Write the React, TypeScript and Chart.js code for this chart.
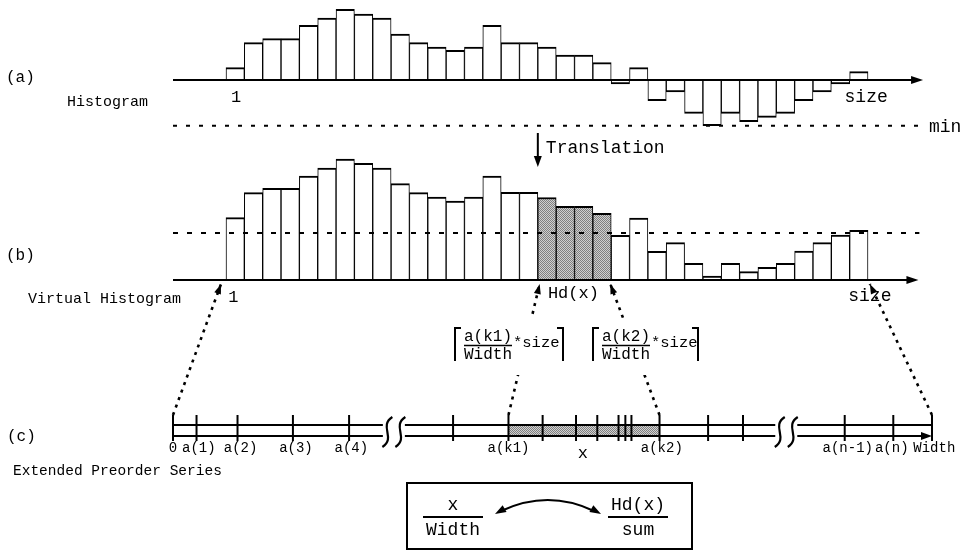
import React, { useEffect, useRef } from "react";
import { Chart, registerables } from "chart.js";

Chart.register(...registerables);

const FONT = '"Liberation Mono", "DejaVu Sans Mono", monospace';

// ---- data -------------------------------------------------------------
// bin numbers 1 .. size
const bins = [1, 2, 3, 4, 5, 6, 7, 8, 9, 10, 11, 12, 13, 14, 15, 16, 17, 18, 19, 20, 21, 22, 23, 24, 25, 26, 27, 28, 29, 30, 31, 32, 33, 34, 35];
// (a) original histogram (can be negative)
const histogram = [12.3, 37.3, 41.3, 41.3, 54.7, 62, 70.7, 66, 62, 46, 37.3, 33, 29.7, 33, 54.7, 37.3, 37.3, 33, 25, 25, 17.3, -4, 12.3, -20.7, -12, -33.3, -45.7, -33.3, -41.7, -37.3, -33.3, -20.7, -12, -4, 8.3];
const minValue = -45.7;
// (b) virtual (translated) histogram
const virtualHistogram = [62.3, 87.3, 91.7, 91.7, 104, 112, 121, 116.7, 112, 96.3, 87.3, 83, 79, 83, 104, 87.7, 87.7, 82.5, 73.7, 73.7, 66.7, 44.7, 62, 28.7, 37.3, 16.7, 4, 16.7, 8.3, 12.7, 16.7, 29, 37.3, 45, 49.7];
const virtualLevel = 47;
const shadedBins = [18, 19, 20, 21];

// (c) extended preorder series, positions along 0 .. Width (=100)
const seriesPositions = [0, 3.1, 8.5, 15.8, 23.2, 36.9, 44.2, 48.7, 53.1, 55.9, 58.7, 59.6, 60.4, 64.1, 70.5, 75.1, 88.5, 94.9, 100];
const seriesLabelPositions = [0, 3.4, 8.9, 16.2, 23.5, 44.2, 64.4, 88.9, 94.7, 100.3];
const seriesLabelTexts = ["0", "a(1)", "a(2)", "a(3)", "a(4)", "a(k1)", "a(k2)", "a(n-1)", "a(n)", "Width"];
const breakPositions = [29.1, 80.8];
const k1Position = 44.2;
const k2Position = 64.1;
const xMarkPosition = 54;

// ---- layout (pixel geometry of hidden scales) -------------------------
const W = 965;
const H = 552;
const BIN_LEFT = 226;
const BIN_W = 18.343;
const LINE_LEFT = 173;
const LINE_UNIT = 7.59;
const BASE_A = 80;
const BASE_B = 280;
const BASE_C = 428;

function makePattern(): CanvasPattern | string {
  const c = document.createElement("canvas");
  c.width = 2;
  c.height = 2;
  const g = c.getContext("2d");
  if (!g) return "#aaa";
  g.fillStyle = "#d0d0d0";
  g.fillRect(0, 0, 2, 2);
  g.fillStyle = "#808080";
  g.fillRect(0, 0, 1, 1);
  g.fillRect(1, 1, 1, 1);
  const p = document.createElement("canvas").getContext("2d")!.createPattern(c, "repeat");
  return p || "#aaa";
}

function arrowHead(ctx: CanvasRenderingContext2D, fx: number, fy: number, tx: number, ty: number, len: number, wid: number) {
  const a = Math.atan2(ty - fy, tx - fx);
  const bx = tx - len * Math.cos(a);
  const by = ty - len * Math.sin(a);
  ctx.beginPath();
  ctx.moveTo(tx, ty);
  ctx.lineTo(bx + (wid / 2) * Math.sin(a), by - (wid / 2) * Math.cos(a));
  ctx.lineTo(bx - (wid / 2) * Math.sin(a), by + (wid / 2) * Math.cos(a));
  ctx.closePath();
  ctx.fill();
}

function text(ctx: CanvasRenderingContext2D, s: string, x: number, y: number, size: number, align: CanvasTextAlign = "left") {
  ctx.font = `${size}px ${FONT}`;
  ctx.textAlign = align;
  ctx.textBaseline = "middle";
  ctx.fillStyle = "#000";
  ctx.fillText(s, x, y);
}

function line(ctx: CanvasRenderingContext2D, x1: number, y1: number, x2: number, y2: number, lw = 2, dash: number[] = []) {
  ctx.save();
  ctx.lineWidth = lw;
  ctx.setLineDash(dash);
  ctx.strokeStyle = "#000";
  ctx.beginPath();
  ctx.moveTo(x1, y1);
  ctx.lineTo(x2, y2);
  ctx.stroke();
  ctx.restore();
}

export default function App() {
  const ref = useRef<HTMLCanvasElement>(null);

  useEffect(() => {
    const canvas = ref.current;
    if (!canvas) return;
    const pattern = makePattern();

    const overlay = {
      id: "overlay",
      beforeDatasetsDraw(chart: any) {
        const ctx: CanvasRenderingContext2D = chart.ctx;
        const s = chart.scales;
        const X = (v: number) => s.x.getPixelForValue(v);
        const L = (v: number) => s.xC.getPixelForValue(v);
        const YA = (v: number) => s.yA.getPixelForValue(v);
        const YC = (v: number) => s.yC.getPixelForValue(v);
        ctx.save();
        // (a) min level
        line(ctx, L(0), YA(minValue), X(37.8), YA(minValue), 2, [4, 9]);
        // (c) shaded interval between a(k1) and a(k2)
        ctx.fillStyle = pattern as any;
        ctx.fillRect(L(k1Position), YC(3), L(k2Position) - L(k1Position), YC(-8) - YC(3));
        ctx.restore();
      },
      afterDatasetsDraw(chart: any) {
        const ctx: CanvasRenderingContext2D = chart.ctx;
        const s = chart.scales;
        const X = (v: number) => s.x.getPixelForValue(v);
        const L = (v: number) => s.xC.getPixelForValue(v);
        const YA = (v: number) => s.yA.getPixelForValue(v);
        const YB = (v: number) => s.yB.getPixelForValue(v);
        const YC = (v: number) => s.yC.getPixelForValue(v);
        ctx.save();
        ctx.fillStyle = "#000";

        // (a) axis
        line(ctx, L(0), YA(0), X(38.0) - 8, YA(0), 2);
        arrowHead(ctx, L(0), YA(0), X(38.0), YA(0), 12, 8);
        // (b) axis + level
        line(ctx, L(0), YB(0), X(37.75) - 8, YB(0), 2);
        arrowHead(ctx, L(0), YB(0), X(37.75), YB(0), 12, 8);
        line(ctx, L(0), YB(virtualLevel), X(37.8), YB(virtualLevel), 2, [5, 9]);

        // Translation arrow
        const tx = X(17);
        line(ctx, tx, YA(-53), tx, YA(-80), 2);
        arrowHead(ctx, tx, YA(-53), tx, YA(-87), 11, 8);
        text(ctx, "Translation", tx + 8, YA(-68), 18);

        // (c) number line
        const g = 1.45;
        const segs = [
          [0, breakPositions[0] - g],
          [breakPositions[0] + g, breakPositions[1] - g],
          [breakPositions[1] + g, 100],
        ];
        segs.forEach(([a, b], i) => {
          line(ctx, L(a), YC(3), L(b), YC(3), 2);
          const end = i === segs.length - 1 ? L(b) - 8 : L(b);
          line(ctx, L(a), YC(-8), end, YC(-8), 2);
        });
        arrowHead(ctx, L(90), YC(-8), L(100), YC(-8), 11, 8);
        ctx.lineWidth = 2.2;
        ctx.strokeStyle = "#000";
        breakPositions.forEach((b) => {
          [-6.5, 6.5].forEach((off) => {
            const cx = L(b) + off;
            ctx.beginPath();
            ctx.moveTo(cx + 5, YC(11));
            ctx.bezierCurveTo(cx - 9, YC(2), cx + 9, YC(-10), cx - 5, YC(-19));
            ctx.stroke();
          });
        });

        // dotted arrows from series to virtual histogram
        const arrows = [
          [0, -0.27],
          [k1Position, 17.1],
          [k2Position, 20.95],
          [100, 35.1],
        ];
        arrows.forEach(([from, to]) => {
          const fx = L(from), fy = YC(13);
          const ex = X(to), ey = YB(-4);
          line(ctx, fx, fy, ex, ey, 2.6, [3, 5]);
          arrowHead(ctx, fx, fy, ex, ey, 10, 7);
        });

        // brackets with fractions
        const brackets = [
          { l: 455, r: 563, num: "a(k1)" },
          { l: 593, r: 698, num: "a(k2)" },
        ];
        brackets.forEach((b) => {
          ctx.fillStyle = "#fff";
          ctx.fillRect(b.l - 6, 318, b.r - b.l + 12, 57);
          ctx.strokeStyle = "#000";
          ctx.lineWidth = 2;
          ctx.beginPath();
          ctx.moveTo(b.l + 6, 328);
          ctx.lineTo(b.l, 328);
          ctx.lineTo(b.l, 361);
          ctx.moveTo(b.r - 6, 328);
          ctx.lineTo(b.r, 328);
          ctx.lineTo(b.r, 361);
          ctx.stroke();
          text(ctx, b.num, b.l + 9, 337, 16);
          line(ctx, b.l + 9, 345.5, b.l + 57, 345.5, 1.5);
          text(ctx, "Width", b.l + 9, 355, 16);
          text(ctx, "*size", b.l + 58, 343, 15.5);
        });

        // labels (a)
        text(ctx, "(a)", 6, 78, 16);
        text(ctx, "Histogram", 67, 102, 15);
        text(ctx, "1", X(0.55), YA(-17), 17, "center");
        text(ctx, "size", X(34.9), YA(-17), 18, "center");
        text(ctx, "min", 929, YA(minValue) + 2, 18);
        // labels (b)
        text(ctx, "(b)", 6, 256, 16);
        text(ctx, "Virtual Histogram", 28, 299, 15);
        text(ctx, "1", X(0.4), YB(-17), 17, "center");
        text(ctx, "Hd(x)", X(17.55), YB(-13), 17);
        text(ctx, "size", X(35.1), YB(-16), 18, "center");
        // labels (c)
        text(ctx, "(c)", 7, 437, 16);
        text(ctx, "Extended Preorder Series", 13, 471, 14.5);
        seriesLabelTexts.forEach((t, i) => {
          text(ctx, t, L(seriesLabelPositions[i]), YC(-20), 14, "center");
        });
        text(ctx, "x", L(xMarkPosition), YC(-25), 17, "center");

        // bottom box
        ctx.strokeStyle = "#000";
        ctx.lineWidth = 2;
        ctx.strokeRect(407, 483, 285, 66);
        text(ctx, "x", 453, 505, 18, "center");
        line(ctx, 423, 517, 483, 517, 1.8);
        text(ctx, "Width", 453, 530, 18, "center");
        text(ctx, "Hd(x)", 638, 505, 18, "center");
        line(ctx, 608, 517, 668, 517, 1.8);
        text(ctx, "sum", 638, 530, 18, "center");
        // double curved arrow
        ctx.beginPath();
        ctx.lineWidth = 2;
        ctx.moveTo(501, 511);
        ctx.quadraticCurveTo(548, 489, 594, 511);
        ctx.stroke();
        ctx.fillStyle = "#000";
        arrowHead(ctx, 520, 500, 495, 514, 11, 8);
        arrowHead(ctx, 576, 500, 601, 514, 11, 8);

        ctx.restore();
      },
    };

    const barColors = bins.map((b) => (shadedBins.includes(b) ? pattern : "#fff"));
    const barBorder = { top: 2, bottom: 2, left: 1, right: 1 };

    const chart = new Chart(canvas, {
      type: "bar",
      data: {
        datasets: [
          {
            label: "Histogram",
            data: bins.map((b, i) => ({ x: b - 0.5, y: histogram[i] })),
            xAxisID: "x",
            yAxisID: "yA",
            backgroundColor: "#fff",
            borderColor: "#000",
            borderWidth: barBorder,
            grouped: false,
            categoryPercentage: 1,
            barPercentage: 1,
          } as any,
          {
            label: "Virtual Histogram",
            data: bins.map((b, i) => ({ x: b - 0.5, y: virtualHistogram[i] })),
            xAxisID: "x",
            yAxisID: "yB",
            backgroundColor: barColors as any,
            borderColor: "#000",
            borderWidth: barBorder,
            grouped: false,
            categoryPercentage: 1,
            barPercentage: 1,
          } as any,
          {
            type: "scatter",
            label: "Extended Preorder Series",
            data: seriesPositions.map((v) => ({ x: v, y: 0 })),
            xAxisID: "xC",
            yAxisID: "yC",
            pointStyle: "line",
            pointRotation: 90,
            pointRadius: 13,
            pointBorderWidth: 2,
            pointBorderColor: "#000",
            pointBackgroundColor: "#000",
            borderColor: "#000",
            showLine: false,
          } as any,
        ],
      },
      options: {
        responsive: false,
        animation: false,
        events: [],
        devicePixelRatio: 1,
        layout: { padding: 0, autoPadding: false },
        plugins: {
          legend: { display: false },
          tooltip: { enabled: false },
          title: { display: false },
        },
        scales: {
          x: { type: "linear", axis: "x", display: false, offset: false, min: -BIN_LEFT / BIN_W, max: (W - BIN_LEFT) / BIN_W },
          xC: { type: "linear", axis: "x", display: false, offset: false, min: -LINE_LEFT / LINE_UNIT, max: (W - LINE_LEFT) / LINE_UNIT },
          yA: { type: "linear", axis: "y", display: false, min: -(H - BASE_A), max: BASE_A },
          yB: { type: "linear", axis: "y", display: false, min: -(H - BASE_B), max: BASE_B },
          yC: { type: "linear", axis: "y", display: false, min: -(H - BASE_C), max: BASE_C },
        } as any,
      },
      plugins: [overlay],
    } as any);

    return () => chart.destroy();
  }, []);

  return (
    <div style={{ position: "absolute", left: 0, top: 0, width: W, height: H, background: "#fff" }}>
      <canvas ref={ref} width={W} height={H} style={{ display: "block", width: W, height: H }} />
    </div>
  );
}
